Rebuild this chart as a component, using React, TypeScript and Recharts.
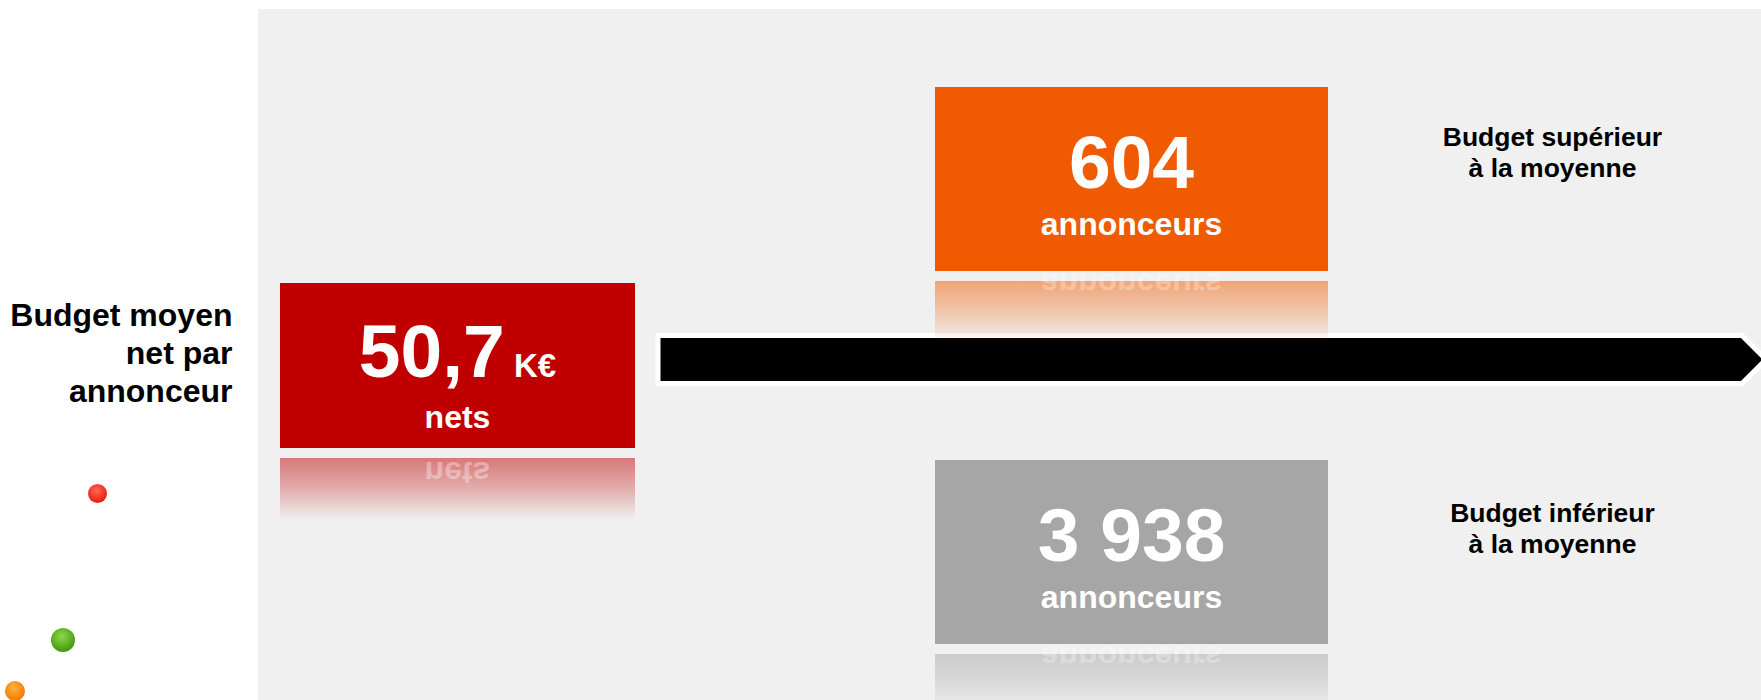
import { ScatterChart, Scatter, XAxis, YAxis } from 'recharts';

if (typeof document !== 'undefined') document.body.style.margin = '0';

const W = 1761;
const H = 700;

// data
const segments = ['moyenne', 'superieur', 'inferieur'];
const levels = [0, 1, -1]; // position vs. average budget
const steps = [0, 1, 1];
const values = [50.7, 604, 3938];
const units = ['K€', '', ''];
const subLabels = ['nets', 'annonceurs', 'annonceurs'];
const notes = [
  ['Budget moyen', 'net par', 'annonceur'],
  ['Budget supérieur', 'à la moyenne'],
  ['Budget inférieur', 'à la moyenne'],
];

const COLORS: Record<string, string> = {
  moyenne: '#C00000',
  superieur: '#F05A00',
  inferieur: '#A6A6A6',
};

const FONT = '"Liberation Sans", Arial, sans-serif';

const fmt = (v: number) => {
  const [i, d] = String(v).split('.');
  const int = i.replace(/\B(?=(\d{3})+(?!\d))/g, ' ');
  return d ? `${int},${d}` : int;
};

const rows = segments.map((key, i) => ({
  key,
  level: levels[i],
  step: steps[i],
  value: values[i],
  unit: units[i],
  sub: subLabels[i],
  note: notes[i],
}));

const Block = (props: any) => {
  const { cx, cy, payload } = props;
  if (cx == null || cy == null) return null;
  const isAvg = payload.level === 0;
  const w = isAvg ? 355 : 393;
  const h = isAvg ? 165 : 184;
  const x0 = cx - w / 2;
  const y0 = cy - h / 2;
  const bottom = y0 + h;
  const color = COLORS[payload.key];
  const gid = `refl-${payload.key}`;
  const valueBase = cy + (isAvg ? 11 : 9);
  const subBase = cy + (isAvg ? 62 : 56);
  const mirrorTarget = bottom + (isAvg ? 14 : 2);
  const axis = (subBase + mirrorTarget) / 2;
  const noteTop = cy + (payload.level > 0 ? -33 : -30);

  return (
    <g>
      {isAvg && (
        <polygon
          points={`${x0 + w + 23},${cy - 30} ${W - 19},${cy - 30} ${W + 5},${cy - 6} ${W - 19},${cy + 18} ${x0 + w + 23},${cy + 18}`}
          fill="#000"
          stroke="#fff"
          strokeWidth={5}
        />
      )}
      <defs>
        <linearGradient id={gid} x1="0" y1="0" x2="0" y2="1">
          <stop offset="0" stopColor={color} stopOpacity={0.5} />
          <stop offset="0.5" stopColor={color} stopOpacity={0.28} />
          <stop offset="1" stopColor={color} stopOpacity={0} />
        </linearGradient>
      </defs>
      <rect x={x0} y={bottom + 10} width={w} height={62} fill={`url(#${gid})`} />
      <text
        x={cx}
        y={subBase}
        transform={`translate(0 ${2 * axis}) scale(1 -1)`}
        textAnchor="middle"
        fontFamily={FONT}
        fontWeight="bold"
        fontSize={32}
        fill="#fff"
        fillOpacity={isAvg ? 0.35 : 0.3}
      >
        {payload.sub}
      </text>
      <rect x={x0} y={y0} width={w} height={h} fill={color} />
      <text x={cx} y={valueBase} textAnchor="middle" fontFamily={FONT} fontWeight="bold" fill="#fff">
        <tspan fontSize={75}>{fmt(payload.value)}</tspan>
        {payload.unit && <tspan fontSize={33}>{' ' + payload.unit}</tspan>}
      </text>
      <text x={cx} y={subBase} textAnchor="middle" fontFamily={FONT} fontWeight="bold" fontSize={32} fill="#fff">
        {payload.sub}
      </text>
      {isAvg
        ? payload.note.map((line: string, i: number) => (
            <text
              key={i}
              x={cx - 225}
              y={cy - 40 + i * 38}
              textAnchor="end"
              fontFamily={FONT}
              fontWeight="bold"
              fontSize={32}
              fill="#000"
            >
              {line}
            </text>
          ))
        : payload.note.map((line: string, i: number) => (
            <text
              key={i}
              x={cx + 421}
              y={noteTop + i * 31}
              textAnchor="middle"
              fontFamily={FONT}
              fontWeight="bold"
              fontSize={26.5}
              fill="#000"
            >
              {line}
            </text>
          ))}
    </g>
  );
};

const Ball = ({ x, y, r, light, dark }: any) => (
  <div
    style={{
      position: 'absolute',
      left: x - r,
      top: y - r,
      width: r * 2,
      height: r * 2,
      borderRadius: '50%',
      background: `radial-gradient(circle at 45% 35%, ${light} 0%, ${dark} 75%)`,
    }}
  />
);

export default function App() {
  return (
    <div style={{ position: 'relative', width: W, height: H, background: '#fff', overflow: 'hidden' }}>
      {/* gray panel */}
      <div style={{ position: 'absolute', left: 258, top: 9, right: 0, bottom: 0, background: '#F0F0F0' }} />
      <Ball x={97} y={493} r={9.5} light="#FF6A55" dark="#E81A0C" />
      <Ball x={63} y={640} r={12} light="#8FD84A" dark="#3E9A0C" />
      <Ball x={15} y={691} r={10} light="#FFB340" dark="#F07800" />
      <div style={{ position: 'absolute', left: 0, top: 0 }}>
        <ScatterChart width={W} height={H} margin={{ top: 179, right: 629.5, bottom: 148, left: 457.5 }}>
          <XAxis type="number" dataKey="step" domain={[0, 1]} hide />
          <YAxis type="number" dataKey="level" domain={[-1, 1]} hide />
          <Scatter data={rows} shape={Block} isAnimationActive={false} />
        </ScatterChart>
      </div>
    </div>
  );
}
